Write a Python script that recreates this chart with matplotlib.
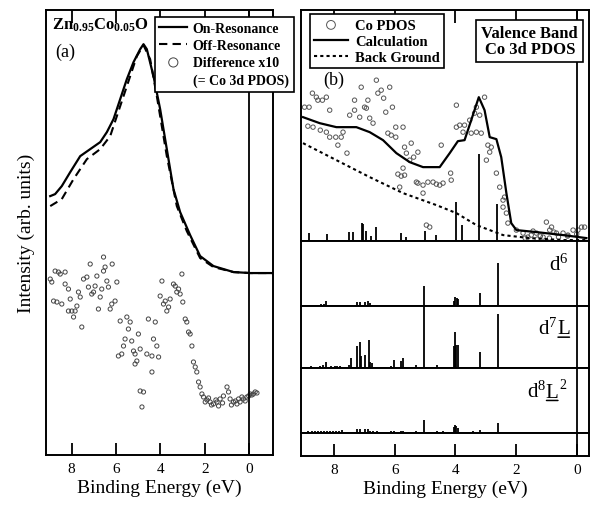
import matplotlib
matplotlib.use("Agg")
import matplotlib.pyplot as plt
import numpy as np
from matplotlib.lines import Line2D

plt.rcParams["font.family"] = "serif"
plt.rcParams["font.serif"] = ["Liberation Serif", "DejaVu Serif"]
plt.rcParams["mathtext.fontset"] = "custom"
plt.rcParams["mathtext.rm"] = "Liberation Serif"
plt.rcParams["mathtext.it"] = "Liberation Serif:italic"
plt.rcParams["mathtext.bf"] = "Liberation Serif:bold"

# ---------------- panel (a): resonant photoemission ----------------
on_E = [8.96, 8.74, 8.44, 8.06, 7.61, 7.16, 6.71, 6.41, 6.11, 5.81, 5.51, 5.21,
        4.91, 4.76, 4.61, 4.31, 4.01, 3.71, 3.41, 3.11, 2.66, 2.21, 1.61, 0.71,
        -0.05, -0.5, -1.05]
on_I = [259, 261, 269, 283, 299, 306, 313, 323, 336, 356, 376, 393,
        406, 411, 406, 379, 346, 306, 266, 243, 220, 199, 189, 183,
        182, 182, 182]
off_E = [8.96, 8.44, 7.91, 7.31, 6.71, 6.26, 5.96, 5.51, 5.06, 4.76, 4.46, 4.16,
         3.71, 3.26, 2.81, 2.21, 1.61, 0.71, -0.05, -0.5, -1.05]
off_I = [249, 256, 276, 296, 306, 319, 339, 369, 399, 410, 396, 359,
         299, 249, 224, 197, 188, 183, 182, 182, 182]

diff_E = [8.96, 8.89, 8.74, 8.59, 8.51, 8.29, 8.81, 8.66, 8.44, 8.29, 8.14, 8.06,
          8.14, 7.99, 7.84, 7.76, 7.69, 7.61, 7.91, 7.54, 7.46, 7.31, 7.24, 7.16,
          7.09, 7.01, 6.94, 6.86, 6.79, 6.71, 6.64, 6.56, 6.49, 6.41, 6.34, 6.26,
          6.19, 6.04, 5.96, 6.56, 6.17, 5.81, 5.89, 5.74, 5.66, 5.59, 5.51, 5.44,
          5.36, 5.29, 5.21, 5.14, 5.06, 4.99, 4.91, 5.14, 4.91, 4.76, 4.83, 4.61,
          4.54, 4.38, 4.31, 4.23, 4.16, 4.08, 4.38, 4.01, 3.93, 3.86, 3.78, 3.71,
          3.63, 3.56, 3.41, 3.33, 3.26, 3.18, 3.11, 3.03, 2.99, 2.88, 2.81, 2.73,
          2.66, 2.58, 2.51, 2.43, 2.36, 2.28, 2.21, 2.13, 2.06, 1.98, 1.83, 1.76,
          1.61, 1.45, 1.31, 1.16, 1.0, 0.93, 0.86, 0.71, 0.55, 0.41, 0.26, 0.10,
          -0.05, -0.19, -0.35, 1.9, 1.7, 1.5, 1.38, 1.2, 0.8, 0.62, 0.48, 0.33,
          0.18, 0.02, -0.12, -0.27]
diff_I = [176, 173, 184, 183, 181, 183, 154, 153, 151, 171, 166, 156,
          144, 144, 144, 149, 163, 158, 138, 128, 176, 178, 168, 191,
          161, 163, 169, 179, 146, 158, 166, 184, 188, 174, 168, 146,
          151, 154, 173, 198, 191, 134, 99, 101, 109, 116, 138, 126,
          133, 114, 104, 101, 94, 121, 106, 91, 64, 63, 48, 101,
          136, 99, 116, 133, 109, 98, 83, 159, 174, 151, 154, 144,
          148, 156, 171, 169, 163, 166, 161, 181, 153, 136, 133, 123,
          121, 109, 93, 88, 83, 73, 68, 61, 58, 53, 57, 53,
          51, 53, 56, 59, 68, 63, 56, 53, 51, 53, 56, 58,
          61, 61, 62, 55, 50, 55, 49, 52, 50, 54, 56, 58,
          54, 59, 60, 63]

# ---------------- panel (b): Co 3d PDOS ----------------
pdos_E = [8.98, 8.83, 8.72, 8.59, 8.54, 8.39, 8.26, 8.15, 8.87, 8.70, 8.46, 8.26,
          8.15, 7.95, 7.88, 7.77, 7.71, 7.58, 7.49, 7.33, 7.33, 7.16, 7.11, 7.0,
          6.94, 6.89, 6.83, 6.72, 6.61, 6.56, 6.45, 6.37, 6.30, 6.17, 6.08, 5.97,
          6.23, 6.12, 5.97, 5.73, 5.68, 5.62, 5.46, 5.38, 5.29, 5.24, 5.84, 5.73,
          5.68, 5.51, 5.07, 5.07, 4.91, 4.74, 4.63, 4.52, 4.41, 4.47, 4.16, 4.14,
          3.97, 3.97, 3.86, 3.70, 3.75, 3.53, 3.48, 3.37, 3.31, 3.20, 3.31, 3.15,
          3.04, 2.93, 2.87, 2.82, 2.98, 2.65, 2.54, 2.43, 2.38, 2.43, 2.32, 2.27,
          1.99, 1.77, 1.61, 1.44, 1.33, 1.11, 1.0, 0.89, 0.83, 0.67, 0.45, 0.29,
          0.12, -0.04, -0.16, -0.26, 4.96, 4.85, 5.90, 5.79, 5.24, 1.7, 1.3, 0.9,
          0.6, 0.3, 0.0, 1.5, 1.2, 0.75]
pdos_I = [134, 134, 148, 144, 141, 141, 144, 131, 115, 114, 111, 109,
          104, 104, 96, 104, 109, 88, 126, 131, 141, 124, 154, 134,
          133, 141, 123, 118, 161, 148, 151, 143, 129, 154, 134, 114,
          108, 106, 104, 114, 94, 88, 98, 84, 59, 58, 54, 73,
          66, 81, 56, 48, 59, 59, 57, 56, 58, 96, 68, 61,
          136, 114, 116, 116, 109, 121, 108, 128, 134, 126, 109, 108,
          144, 96, 89, 94, 81, 68, 54, 41, 44, 34, 28, 18,
          11, 8, 4, 10, 8, 4, 19, 11, 14, 8, 8, 6,
          11, 11, 14, 14, 16, 14, 67, 65, 89, 3, 2, 3,
          4, 5, 7, 6, 5, 9]

calc_E = [9.03, 8.48, 7.93, 7.27, 6.83, 6.39, 5.95, 5.51, 5.07, 4.52, 4.19, 3.92,
          3.70, 3.48, 3.23, 3.04, 2.87, 2.65, 2.49, 2.32, 2.16, 1.99, 1.33, 0.45,
          -0.32]
calc_I = [124, 118, 114, 114, 109, 101, 88, 79, 74, 74, 88, 100,
          101, 121, 144, 131, 104, 102, 84, 48, 18, 11, 9, 6,
          3]
bg_E = [9.03, 7.93, 6.83, 5.73, 4.63, 3.97, 3.31, 2.43, 1.55, 0.45, -0.32]
bg_I = [98, 81, 64, 48, 36, 28, 16, 6, 3, 1, 1]

# stick spectra: total (top) and the d6, d7L, d8L2 components
tot_E = [8.83, 8.23, 7.52, 7.38, 7.10, 7.05, 6.94, 6.78, 6.62, 5.79, 5.64, 5.0,
         4.63, 3.97, 3.80, 3.22, 2.63]
tot_h = [8, 7, 9, 9, 18, 17, 10, 5, 14, 8, 4, 10,
         6, 39, 16, 87, 37]

d6_E = [8.76, 8.65, 8.54, 8.43, 8.35, 8.28, 8.15, 8.04, 7.93, 7.82, 7.71, 7.60,
        7.49, 7.25, 7.16, 7.0, 6.89, 6.81, 6.72, 6.59, 6.12, 5.95, 5.35, 5.24,
        5.03, 4.61, 4.47, 4.05, 4.0, 3.95, 3.91, 3.42, 3.20, 2.60]
d6_h = [1, 1, 1.5, 2, 2, 5, 1, 1, 1, 1, 1, 1,
        1.5, 4, 4, 4.5, 5.5, 3, 1.5, 1, 1, 1, 1, 1.5,
        20, 1.5, 1.5, 5.5, 9.5, 8, 7, 1, 13, 43]

d7_E = [8.76, 8.48, 8.37, 8.28, 8.10, 7.99, 7.91, 7.82, 7.51, 7.46, 7.25, 7.16,
        7.11, 6.99, 6.85, 6.81, 6.74, 6.12, 6.03, 5.81, 5.73, 5.29, 5.03, 4.61,
        4.05, 4.02, 3.97, 3.91, 3.42, 3.20, 2.60]
d7_h = [1.7, 2.3, 3.3, 6, 2.3, 2.3, 2.3, 1.7, 3.3, 10, 21.7, 25.7,
        12, 12.7, 27.7, 6, 5, 1.7, 7.7, 6.7, 9.7, 3.3, 70, 2.7,
        22.3, 35.7, 23, 23, 1, 15.7, 54.3]

d8_E = [8.85, 8.75, 8.65, 8.55, 8.45, 8.35, 8.25, 8.15, 8.05, 7.95, 7.85, 7.75,
        7.25, 7.16, 6.99, 6.89, 6.81, 6.72, 6.59, 6.12, 6.03, 5.81, 5.73, 5.29,
        5.03, 4.61, 4.41, 4.05, 4.02, 3.97, 3.91, 3.42, 3.20, 2.60]
d8_h = [1.5, 1.5, 2, 1.5, 2, 2, 1.5, 2, 2, 1.5, 2, 2.5,
        4.3, 4.3, 3.5, 4.3, 2, 1.5, 1.5, 1.5, 2, 2, 1.5, 2,
        13.3, 1.5, 1.5, 6, 8.3, 7.3, 4.5, 1.5, 3.3, 10]

xticks = [8, 6, 4, 2, 0]

fig = plt.figure(figsize=(5.9, 5.1), dpi=100)
LW = 1.4


def style_axes(ax, top=True, bottom=True):
    for s in ax.spines.values():
        s.set_linewidth(LW)
    ax.set_yticks([])
    ax.tick_params(axis="x", direction="in", length=9, width=1.3,
                   top=top, bottom=bottom, labelsize=11, pad=5)


# ---- (a)
axa = fig.add_axes([0.078, 0.106, 0.385, 0.872])
axa.plot(on_E, on_I, color="black", lw=1.6, label="On-Resonance")
axa.plot(off_E, off_I, color="black", lw=1.5, ls=(0, (4, 2.5)), label="Off-Resonance")
axa.scatter(diff_E, diff_I, s=9, facecolors="none", edgecolors="#444444",
            linewidths=0.7, label="Difference x10")
axa.axvline(0, color="black", lw=1.3)
axa.set_xlim(9.15, -1.08)
axa.set_ylim(0, 445)
axa.set_xticks(xticks)
style_axes(axa)
axa.set_xlabel("Binding Energy (eV)", fontsize=14, labelpad=3)
axa.set_ylabel("Intensity (arb. units)", fontsize=14, labelpad=8)
axa.text(0.026, 0.969, r"$\mathbf{Zn_{0.95}Co_{0.05}O}$", transform=axa.transAxes,
         fontsize=12, ha="left", va="center")
axa.text(0.04, 0.908, "(a)", transform=axa.transAxes, fontsize=13,
         ha="left", va="center")
h, l = axa.get_legend_handles_labels()
h.append(Line2D([], [], color="none"))
l.append("(= Co 3d PDOS)")
leg = axa.legend(h, l, loc="upper right", bbox_to_anchor=(1.09, 0.985),
                 borderaxespad=0, fancybox=False, framealpha=1, edgecolor="black",
                 prop={"weight": "bold", "size": 10}, handlelength=2.0,
                 handletextpad=0.4, labelspacing=0.3, borderpad=0.35,
                 markerscale=2.2)
leg.get_frame().set_linewidth(1.2)

# ---- (b)
gs = fig.add_gridspec(5, 1, left=0.510, right=0.998, top=0.978, bottom=0.104,
                      height_ratios=[231, 65, 62, 65, 23], hspace=0)
axt = fig.add_subplot(gs[0])
axs = [fig.add_subplot(gs[i], sharex=axt) for i in range(1, 5)]

axt.scatter(pdos_E, pdos_I, s=10, facecolors="none", edgecolors="#555555",
            linewidths=0.7, label="Co PDOS")
axt.plot(calc_E, calc_I, color="black", lw=1.6, label="Calculation")
axt.plot(bg_E, bg_I, color="black", lw=1.5, ls=(0, (1.5, 1.5)), label="Back Ground")
axt.vlines(tot_E, 0, tot_h, color="black", lw=1.3)
axt.axvline(0, color="black", lw=1.3)
axt.set_xlim(9.1, -0.4)
axt.set_ylim(0, 231)
axt.set_xticks(xticks)
style_axes(axt, top=True, bottom=False)
axt.tick_params(axis="x", labelbottom=False)
leg2 = axt.legend(loc="upper left", bbox_to_anchor=(0.031, 0.983), borderaxespad=0,
                  fancybox=False, framealpha=1, edgecolor="black",
                  prop={"weight": "bold", "size": 10.5}, handlelength=2.3,
                  handletextpad=0.5, labelspacing=0.2, borderpad=0.3,
                  markerscale=2.0)
leg2.get_frame().set_linewidth(1.2)
axt.text(0.115, 0.70, "(b)", transform=axt.transAxes, fontsize=13,
         ha="center", va="center")
axt.text(0.795, 0.866, "Valence Band\nCo 3d PDOS", transform=axt.transAxes,
         fontsize=12, fontweight="bold", ha="center", va="center",
         multialignment="center", linespacing=1.0,
         bbox=dict(boxstyle="square,pad=0.3", fc="white", ec="black", lw=1.2))

comp = [(d6_E, d6_h, 65, "6", False, ""),
        (d7_E, d7_h, 62, "7", True, ""),
        (d8_E, d8_h, 65, "8", True, "2")]
for ax, (E, hts, top, n, ligand, sup) in zip(axs[:3], comp):
    ax.vlines(E, 0, hts, color="black", lw=1.3)
    ax.axvline(0, color="black", lw=1.3)
    ax.set_ylim(0, top)
    style_axes(ax, top=False, bottom=False)
    ax.tick_params(axis="x", labelbottom=False)
    if not ligand:
        ax.text(0.93, 0.56, r"d$^{%s}$" % n, transform=ax.transAxes, fontsize=15,
                ha="right", va="baseline")
        continue
    xr = 0.935 if sup == "" else 0.895
    tl = ax.text(xr, 0.56, "L", transform=ax.transAxes, fontsize=15,
                 ha="right", va="baseline")
    ax.annotate(r"d$^{%s}$" % n, xy=(0, 0), xycoords=tl, fontsize=15,
                ha="right", va="bottom")
    # underline below the ligand-hole L
    ax.annotate("", xy=(0.05, 0.06), xycoords=tl, xytext=(0.95, 0.06),
                textcoords=tl, arrowprops=dict(arrowstyle="-", lw=1.1,
                                               shrinkA=0, shrinkB=0))
    if sup:
        ax.annotate(sup, xy=(1.05, 0.55), xycoords=tl, fontsize=10,
                    ha="left", va="bottom")

axb = axs[3]
axb.axvline(0, color="black", lw=1.3)
axb.set_ylim(0, 1)
style_axes(axb, top=False, bottom=True)
axb.set_xticks(xticks)
axb.set_xlabel("Binding Energy (eV)", fontsize=14, labelpad=3)

fig.savefig("out.png", dpi=100)
